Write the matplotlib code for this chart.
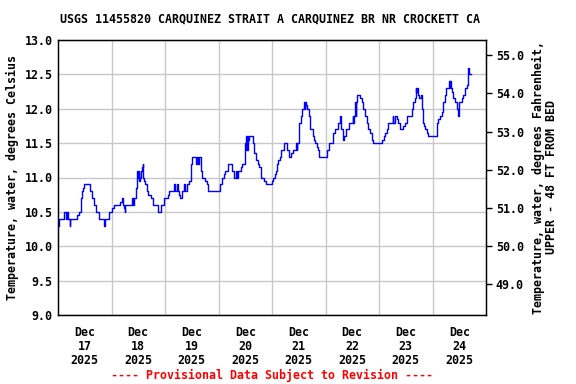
import matplotlib
matplotlib.use("Agg")
import matplotlib.pyplot as plt
import numpy as np

# ---- data: step breakpoints, hours since 2025-12-17 00:00 and water temp (deg C)
hours = [0.00, 0.45, 2.84, 3.59, 4.04, 4.34, 5.38, 5.53, 8.67, 9.42,
         10.17, 10.61, 11.06, 11.51, 14.50, 15.10, 16.00, 17.19, 18.54, 20.78,
         21.08, 23.02, 24.37, 24.97, 27.96, 28.55, 29.00, 29.75, 30.05, 30.20,
         33.04, 33.64, 34.24, 34.83, 35.28, 35.58, 35.88, 36.18, 36.48, 36.78,
         37.23, 37.67, 37.97, 38.27, 38.72, 39.02, 39.77, 40.51, 41.56, 42.46,
         45.00, 46.20, 47.69, 49.48, 49.78, 52.03, 52.47, 53.22, 53.67, 54.27,
         54.72, 55.46, 56.51, 56.96, 57.71, 58.90, 59.65, 59.95, 61.74, 62.19,
         62.94, 63.39, 63.99, 64.73, 65.93, 66.68, 67.13, 72.51, 73.40, 74.45,
         74.90, 76.39, 78.04, 79.09, 79.98, 80.28, 80.58, 82.08, 82.67, 83.87,
         84.17, 84.47, 84.77, 85.07, 85.37, 85.82, 87.31, 88.06, 88.95, 89.55,
         90.30, 91.05, 92.54, 93.14, 95.85, 96.30, 97.19, 97.79, 98.39, 98.84,
         99.59, 100.18, 101.53, 102.87, 103.62, 104.67, 105.27, 106.76, 107.06, 107.36,
         108.26, 108.85, 109.60, 110.35, 110.65, 110.95, 111.25, 111.84, 112.44, 113.04,
         114.24, 114.83, 115.43, 116.03, 116.48, 116.93, 120.52, 121.41, 123.51, 124.10,
         125.75, 126.64, 126.94, 127.69, 128.29, 129.19, 130.38, 132.18, 132.48, 132.77,
         133.22, 133.52, 133.82, 134.27, 135.47, 136.21, 136.96, 137.71, 138.46, 139.20,
         139.95, 140.70, 141.45, 145.48, 146.23, 146.83, 147.43, 148.17, 150.12, 150.42,
         151.31, 151.91, 152.66, 153.41, 154.90, 155.65, 156.69, 158.64, 159.39, 159.98,
         160.43, 160.73, 161.03, 161.63, 162.08, 162.67, 163.12, 163.57, 164.17, 164.77,
         165.37, 166.11, 169.85, 170.60, 171.35, 172.09, 172.84, 173.59, 174.04, 175.38,
         175.68, 175.98, 176.28, 176.58, 177.33, 178.07, 178.82, 179.57, 179.87, 180.02,
         181.06, 181.81, 182.56, 183.31, 183.90, 184.20, 184.35, 184.50, 185.25]
temp_c = [10.3, 10.4, 10.5, 10.4, 10.5, 10.4, 10.3, 10.4, 10.45, 10.5,
          10.7, 10.8, 10.85, 10.9, 10.8, 10.7, 10.6, 10.5, 10.4, 10.3,
          10.4, 10.5, 10.55, 10.6, 10.65, 10.7, 10.6, 10.55, 10.5, 10.6,
          10.7, 10.6, 10.7, 10.85, 11.0, 11.1, 11.0, 11.1, 10.95, 11.0,
          11.1, 11.15, 11.2, 11.0, 10.95, 10.9, 10.8, 10.75, 10.7, 10.6,
          10.5, 10.6, 10.7, 10.75, 10.8, 10.9, 10.8, 10.9, 10.8, 10.75,
          10.7, 10.8, 10.9, 10.8, 10.9, 10.95, 11.2, 11.3, 11.2, 11.3,
          11.2, 11.3, 11.1, 11.0, 10.95, 10.9, 10.8, 10.9, 11.0, 11.05,
          11.1, 11.2, 11.1, 11.0, 11.1, 11.0, 11.1, 11.15, 11.2, 11.5,
          11.4, 11.6, 11.4, 11.6, 11.55, 11.6, 11.5, 11.35, 11.25, 11.2,
          11.15, 11.0, 10.95, 10.9, 10.95, 11.0, 11.05, 11.1, 11.2, 11.25,
          11.3, 11.4, 11.5, 11.4, 11.3, 11.35, 11.4, 11.5, 11.4, 11.5,
          11.8, 11.9, 12.0, 12.1, 12.0, 12.1, 12.05, 12.0, 11.9, 11.7,
          11.6, 11.55, 11.5, 11.45, 11.4, 11.3, 11.4, 11.5, 11.65, 11.7,
          11.8, 11.9, 11.7, 11.55, 11.6, 11.7, 11.8, 11.9, 11.8, 11.9,
          12.1, 11.9, 12.1, 12.2, 12.15, 12.1, 12.0, 11.9, 11.8, 11.7,
          11.65, 11.55, 11.5, 11.55, 11.6, 11.65, 11.7, 11.8, 11.9, 11.8,
          11.9, 11.85, 11.8, 11.7, 11.75, 11.8, 11.9, 12.0, 12.1, 12.15,
          12.3, 12.25, 12.3, 12.2, 12.15, 12.2, 12.0, 11.8, 11.75, 11.7,
          11.65, 11.6, 11.8, 11.85, 11.9, 11.95, 12.1, 12.2, 12.3, 12.4,
          12.3, 12.4, 12.3, 12.25, 12.15, 12.1, 12.0, 11.9, 12.0, 12.1,
          12.15, 12.2, 12.3, 12.35, 12.6, 12.5, 12.6, 12.5, 12.5]

day_labels = ["Dec\n17\n2025", "Dec\n18\n2025", "Dec\n19\n2025", "Dec\n20\n2025",
              "Dec\n21\n2025", "Dec\n22\n2025", "Dec\n23\n2025", "Dec\n24\n2025"]
c_ticks = [9.0, 9.5, 10.0, 10.5, 11.0, 11.5, 12.0, 12.5, 13.0]
f_ticks = [49.0, 50.0, 51.0, 52.0, 53.0, 54.0, 55.0]

plt.rcParams['font.family'] = 'DejaVu Sans Mono'
plt.rcParams['font.weight'] = 'bold'
FS = 8.4

fig = plt.figure(figsize=(5.76, 3.84), dpi=100)
ax = fig.add_axes([58/576, 1-315/384, 428/576, 275/384])

ax.plot(hours, temp_c, color='#0000ff', lw=1.0, drawstyle='steps-post')

ax.set_xlim(0, 192)
ax.set_ylim(9.0, 13.0)
ax.set_yticks(c_ticks)
ax.set_yticklabels(["%.1f" % v for v in c_ticks], fontsize=FS, fontweight='bold')
ax.set_xticks(np.arange(24, 192, 24))
ax.set_xticklabels([])
ax.set_xticks(np.arange(12, 192, 24), minor=True)
ax.set_xticklabels(day_labels, minor=True, fontsize=FS, fontweight='bold', linespacing=1.1)
ax.tick_params(axis='x', which='both', length=0, pad=8)
ax.tick_params(axis='y', length=0, pad=4)
ax.grid(True, which='major', color='#c8c8c8', lw=1.0)
ax.set_axisbelow(True)
for s in ax.spines.values():
    s.set_linewidth(1.0)

ax.set_ylabel("Temperature, water, degrees Celsius", fontsize=FS, fontweight='bold', labelpad=4)

ax2 = ax.twinx()
ax2.set_ylim(9.0*1.8+32, 13.0*1.8+32)
ax2.set_yticks(f_ticks)
ax2.set_yticklabels(["%.1f" % v for v in f_ticks], fontsize=FS, fontweight='bold')
ax2.tick_params(axis='y', length=4, width=1.0, pad=3)
ax2.set_ylabel("Temperature, water, degrees Fahrenheit,\nUPPER - 48 FT FROM BED",
               fontsize=FS, fontweight='bold', labelpad=6, linespacing=1.0)

fig.text(270/576, 1-19/384, "USGS 11455820 CARQUINEZ STRAIT A CARQUINEZ BR NR CROCKETT CA",
         ha='center', va='center', fontsize=FS, fontweight='bold')
fig.text(272/576, 1-375/384, "---- Provisional Data Subject to Revision ----",
         ha='center', va='center', fontsize=FS, fontweight='bold', color='#ff0000')

fig.savefig("out.png", dpi=100)
